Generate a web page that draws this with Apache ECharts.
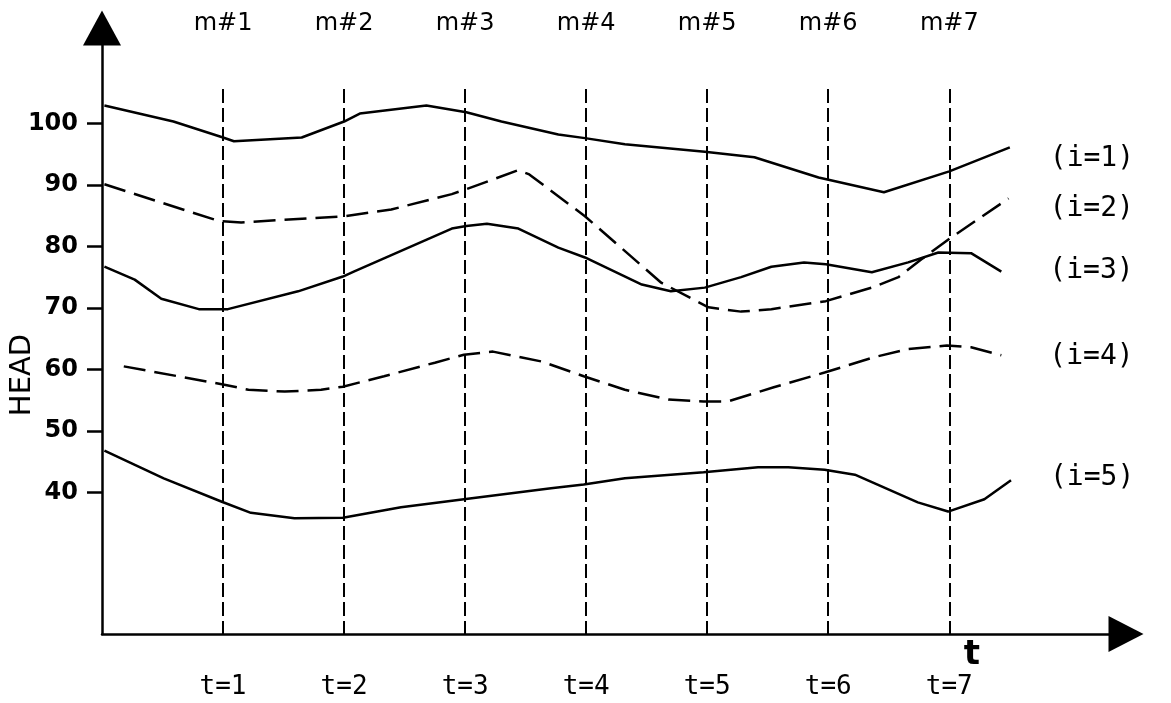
<!DOCTYPE html>
<html>
<head>
<meta charset="utf-8">
<script src="https://cdn.jsdelivr.net/npm/echarts@6/dist/echarts.min.js"></script>
<style>
html,body{margin:0;padding:0;background:#fff;}
#chart{width:1171px;height:703px;}
</style>
</head>
<body>
<div id="chart"></div>
<script>
// ---- data ----
const timeSteps = [1, 2, 3, 4, 5, 6, 7];
const timeLabels = ['t=1', 't=2', 't=3', 't=4', 't=5', 't=6', 't=7'];
const wellLabels = ['m#1', 'm#2', 'm#3', 'm#4', 'm#5', 'm#6', 'm#7'];
const headTicks = [40, 50, 60, 70, 80, 90, 100];
const seriesNames = ['(i=1)', '(i=2)', '(i=3)', '(i=4)', '(i=5)'];

const head1 = [[0.02,102.9],[0.59,100.3],[1.0,97.7],[1.09,97.1],[1.65,97.7],[2.0,100.3],[2.13,101.6],[2.68,102.9],[3.01,101.8],[3.3,100.3],[3.77,98.2],[3.99,97.6],[4.32,96.6],[4.98,95.4],[5.39,94.5],[5.92,91.2],[6.46,88.8],[7.0,92.2],[7.5,96.1]];
const head2 = [[0.02,90.1],[0.97,84.1],[1.15,83.9],[2.0,84.9],[2.39,86.0],[2.89,88.5],[3.01,89.3],[3.44,92.4],[3.53,91.7],[3.99,84.9],[4.62,74.1],[5.01,70.1],[5.28,69.4],[5.53,69.8],[5.98,71.1],[6.36,73.3],[6.58,75.0],[6.77,77.9],[7.02,81.5],[7.49,87.8]];
const head3 = [[0.02,76.7],[0.27,74.6],[0.49,71.5],[0.8,69.8],[1.04,69.8],[1.62,72.7],[1.99,75.1],[2.08,75.9],[2.89,82.9],[3.01,83.3],[3.18,83.7],[3.44,82.9],[3.77,79.8],[3.99,78.2],[4.46,73.8],[4.70,72.7],[4.98,73.3],[5.28,75.0],[5.53,76.7],[5.80,77.4],[5.98,77.1],[6.36,75.8],[6.66,77.4],[6.91,79.0],[7.18,78.9],[7.43,75.9]];
const head4 = [[0.18,60.5],[0.99,57.6],[1.21,56.7],[1.51,56.4],[1.81,56.7],[1.99,57.2],[2.33,58.9],[2.75,61.1],[2.99,62.4],[3.23,62.9],[3.63,61.3],[3.98,58.9],[4.32,56.7],[4.68,55.1],[4.97,54.8],[5.17,54.8],[5.55,57.1],[5.97,59.5],[6.38,62.0],[6.66,63.3],[6.98,63.9],[7.18,63.6],[7.43,62.3]];
const head5 = [[0.02,46.8],[0.51,42.3],[0.99,38.5],[1.23,36.7],[1.59,35.8],[1.99,35.9],[2.47,37.6],[2.99,38.9],[3.71,40.7],[3.98,41.3],[4.32,42.3],[4.97,43.3],[5.42,44.1],[5.67,44.1],[5.97,43.7],[6.22,42.9],[6.74,38.4],[6.99,36.9],[7.29,38.9],[7.51,42.0]];
const headSeries = [head1, head2, head3, head4, head5];

// ---- chart ----
const X_MIN = 0, X_MAX = 8.46, Y_MIN = 17, Y_MAX = 115.5, GUIDE_TOP = 105.6;
const chart = echarts.init(document.getElementById('chart'), null, {renderer: 'canvas'});

const lineKinds = ['solid', [22, 9], 'solid', [22, 9], 'solid'];
const labelOffsets = [[0, 11], [0, 10], [0, -1], [0, 1], [0, -2]];
const labelDistances = [40, 41, 48, 48, 39];

const series = headSeries.map((d, i) => ({
  type: 'line',
  name: seriesNames[i],
  data: d,
  showSymbol: false,
  symbol: 'none',
  smooth: false,
  lineStyle: {color: '#000', width: 2.5, type: lineKinds[i]},
  endLabel: {
    show: true,
    formatter: seriesNames[i],
    distance: labelDistances[i],
    offset: labelOffsets[i],
    color: '#000',
    fontFamily: 'DejaVu Sans Mono',
    fontSize: 28
  },
  emphasis: {disabled: true},
  silent: true,
  z: 3
}));

series.push({
  type: 'line',
  data: [],
  silent: true,
  markLine: {
    silent: true,
    symbol: ['none', 'none'],
    label: {show: false},
    animation: false,
    lineStyle: {color: '#000', width: 2, type: [14, 5]},
    data: timeSteps.map(t => [{coord: [t, GUIDE_TOP]}, {coord: [t, Y_MIN]}])
  }
});

chart.setOption({
  animation: false,
  backgroundColor: '#fff',
  grid: {left: 102, right: 45, top: 28, bottom: 69, containLabel: false},
  xAxis: [{
    type: 'value',
    min: X_MIN, max: X_MAX,
    position: 'bottom',
    axisLine: {show: true, onZero: false, symbol: ['none', 'triangle'], symbolSize: [36, 35],
      lineStyle: {color: '#000', width: 2.5}},
    axisTick: {show: false},
    splitLine: {show: false},
    axisLabel: {
      customValues: timeSteps,
      formatter: v => timeLabels[timeSteps.indexOf(v)],
      margin: 53,
      verticalAlign: 'middle',
      color: '#000',
      fontFamily: 'DejaVu Sans Mono',
      fontSize: 26
    }
  }, {
    type: 'value',
    min: X_MIN, max: X_MAX,
    position: 'top',
    axisLine: {show: false},
    axisTick: {show: false},
    splitLine: {show: false},
    axisLabel: {
      customValues: timeSteps,
      formatter: v => wellLabels[timeSteps.indexOf(v)],
      margin: 4,
      verticalAlign: 'middle',
      color: '#000',
      fontFamily: 'DejaVu Sans',
      fontSize: 24
    }
  }],
  yAxis: {
    type: 'value',
    min: Y_MIN, max: Y_MAX,
    axisLine: {show: true, onZero: false, symbol: ['none', 'triangle'], symbolSize: [38, 35],
      lineStyle: {color: '#000', width: 2.5}},
    axisTick: {show: true, customValues: headTicks, length: 15, lineStyle: {color: '#000', width: 2.5}},
    splitLine: {show: false},
    axisLabel: {
      customValues: headTicks,
      margin: 24,
      color: '#000',
      fontFamily: 'DejaVu Sans',
      fontWeight: 'bold',
      fontSize: 24
    }
  },
  graphic: [{
    type: 'text',
    x: 22, y: 375,
    rotation: Math.PI / 2,
    style: {text: 'HEAD', fill: '#000', font: '29px "DejaVu Sans"', align: 'center', verticalAlign: 'middle'}
  }, {
    type: 'text',
    x: 972, y: 655,
    style: {text: 't', fill: '#000', font: 'bold 34px "DejaVu Sans"', align: 'center', verticalAlign: 'middle'}
  }],
  series: series
});
</script>
</body>
</html>
